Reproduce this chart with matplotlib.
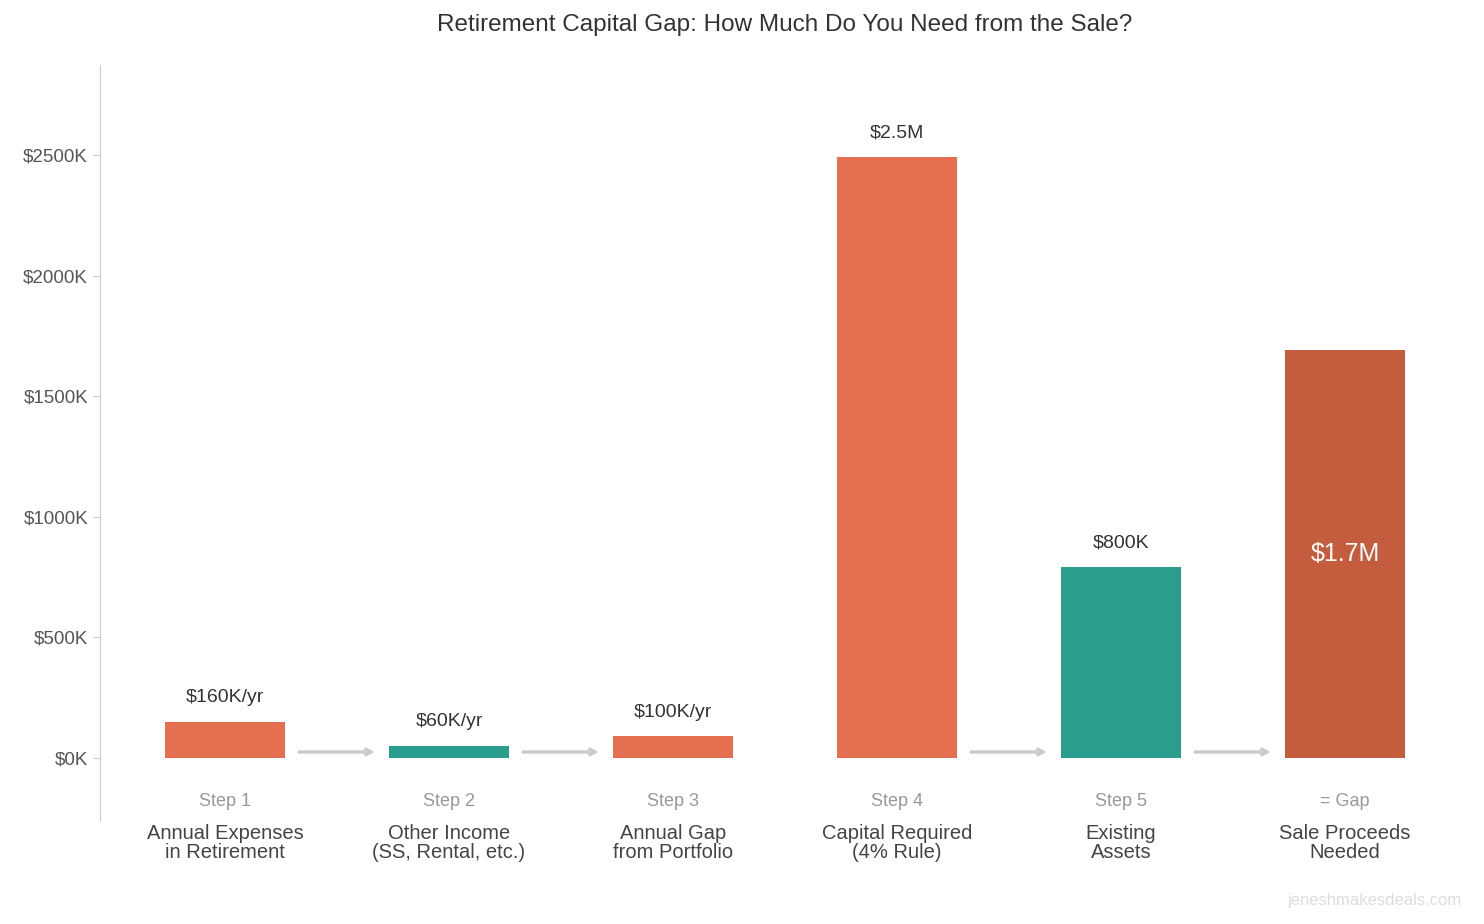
import matplotlib
matplotlib.use("Agg")
import matplotlib.pyplot as plt

plt.rcParams['font.family'] = ['Liberation Sans', 'DejaVu Sans']

steps = ["Step 1", "Step 2", "Step 3", "Step 4", "Step 5", "= Gap"]
names = ["Annual Expenses\nin Retirement", "Other Income\n(SS, Rental, etc.)", "Annual Gap\nfrom Portfolio",
         "Capital Required\n(4% Rule)", "Existing\nAssets", "Sale Proceeds\nNeeded"]
heights = [150, 50, 90, 2490, 790, 1690]
labels = ["$160K/yr", "$60K/yr", "$100K/yr", "$2.5M", "$800K", "$1.7M"]
colors = ["#E5704F", "#2A9D8F", "#E5704F", "#E5704F", "#2A9D8F", "#C45C3E"]
arrow_pairs = [(0, 1), (1, 2), (3, 4), (4, 5)]

fig = plt.figure(figsize=(14.84, 9.24), dpi=100)
ax = fig.add_axes([100/1484, 1 - 820/924, 1370/1484, 755/924])
x = list(range(len(heights)))
w = 0.536
ax.bar(x, heights, width=w, color=colors)
ax.set_xlim(-0.558, 5.558)
ax.set_ylim(-257, 2873)

for i, (h, lab) in enumerate(zip(heights, labels)):
    if i == 5:
        ax.text(i, h / 2, lab, ha='center', va='center', color='white', fontsize=18)
    else:
        ax.text(i, h + 65, lab, ha='center', va='bottom', color='#333333', fontsize=14)
    ax.text(i, -180, steps[i], ha='center', va='center', color='#999999', fontsize=13)
    ax.text(i, -275, names[i], ha='center', va='top', color='#444444', fontsize=14.5,
            linespacing=0.95, clip_on=False)

for a, b in arrow_pairs:
    ax.annotate("", xy=(b - w/2 - 0.05, 25), xytext=(a + w/2 + 0.05, 25),
                arrowprops=dict(arrowstyle='->', color='#cccccc', lw=2.5))

ax.set_yticks([0, 500, 1000, 1500, 2000, 2500])
ax.set_yticklabels([f"${v}K" for v in [0, 500, 1000, 1500, 2000, 2500]])
ax.tick_params(axis='y', labelsize=13.5, colors='#555555', length=5, color='#cccccc')
ax.set_xticks([])
for s in ['top', 'right', 'bottom']:
    ax.spines[s].set_visible(False)
ax.spines['left'].set_color('#cccccc')

fig.text(785/1484, 1 - 25/924, "Retirement Capital Gap: How Much Do You Need from the Sale?",
         ha='center', va='center', fontsize=17.5, color='#333333')
fig.text(1462/1484, 1 - 901/924, "jeneshmakesdeals.com", ha='right', va='center',
         fontsize=12, color='#dddddd')

fig.savefig("out.png", dpi=100)
